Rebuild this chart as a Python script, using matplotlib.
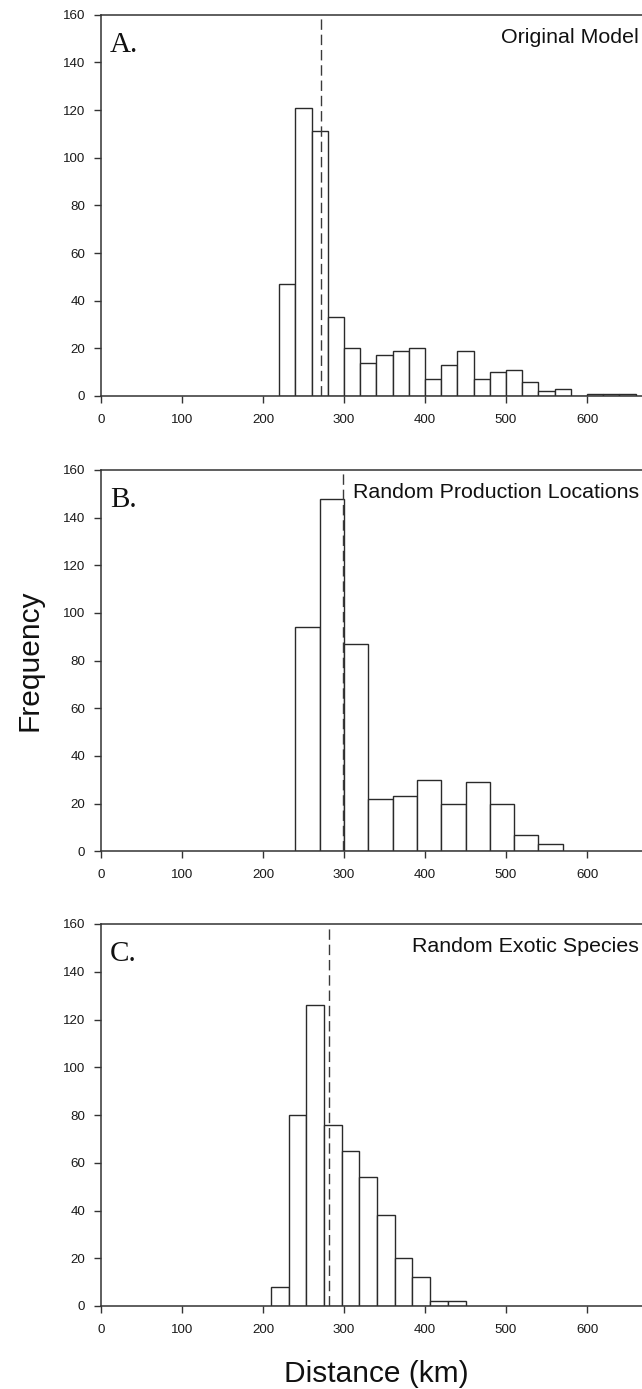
import numpy as np
import matplotlib
matplotlib.use("Agg")
import matplotlib.pyplot as plt

plt.rcParams['font.family'] = ['Liberation Sans', 'DejaVu Sans']

# panel A: 20 km bins from 220 km
edges_a = np.arange(220, 661, 20)
counts_a = [47, 121, 111, 33, 20, 14, 17, 19, 20, 7, 13, 19, 7, 10, 11, 6, 2, 3, 0, 1, 1, 1]
mean_a = 272

# panel B: 30 km bins from 240 km
edges_b = np.arange(240, 571, 30)
counts_b = [94, 148, 87, 22, 23, 30, 20, 29, 20, 7, 3]
mean_b = 299

# panel C: 11 bins between 210 and 450 km
edges_c = np.linspace(210, 450, 12)
counts_c = [8, 80, 126, 76, 65, 54, 38, 20, 12, 2, 2]
mean_c = 281

letters = ['A.', 'B.', 'C.']
titles = ['Original Model', 'Random Production Locations', 'Random Exotic Species']
xticks = [0, 100, 200, 300, 400, 500, 600]
yticks = [0, 20, 40, 60, 80, 100, 120, 140, 160]

W, H = 642, 1389
fig = plt.figure(figsize=(W / 100, H / 100), dpi=100)

panels = [(edges_a, counts_a, mean_a, 14.7, 396),
          (edges_b, counts_b, mean_b, 470, 851.3),
          (edges_c, counts_c, mean_c, 924, 1306)]

spine_col = '#333333'
for i, (edges, counts, mean, top, bot) in enumerate(panels):
    left = 101
    width = 567  # 0-700 km, runs past the right edge of the picture
    ax = fig.add_axes([left / W, (H - bot) / H, width / W, (bot - top) / H])
    ax.hist(edges[:-1], bins=edges, weights=counts, facecolor='white',
            edgecolor='#2a2a2a', linewidth=1.0)
    ax.axvline(mean, color='#3a3a3a', linewidth=1.0, dashes=(7.5, 3.5))
    ax.set_xlim(0, 700)
    ax.set_ylim(0, 160)
    ax.set_xticks(xticks)
    ax.set_yticks(yticks)
    ax.tick_params(direction='out', length=5, width=1, color=spine_col,
                   labelsize=9.6, labelcolor='#1a1a1a')
    ax.tick_params(axis='x', pad=8)
    ax.tick_params(axis='y', pad=6.5)
    ax.spines['right'].set_visible(False)
    for s in ['left', 'top', 'bottom']:
        ax.spines[s].set_color(spine_col)
        ax.spines[s].set_linewidth(1.1)
    ax.text(9 / width, 1 - 17 / (bot - top), letters[i], transform=ax.transAxes,
            family='Liberation Serif', fontsize=21, va='top', ha='left', color='#111111')
    fig.text(639 / W, 1 - (top + 28.5) / H, titles[i], fontsize=15.4,
             ha='right', va='baseline', color='#111111')

fig.text(29 / W, 1 - 660 / H, 'Frequency', rotation=90, fontsize=21.5,
         ha='center', va='center', color='#111111')
fig.text(376 / W, 1 - 1381.7 / H, 'Distance (km)', fontsize=21.5,
         ha='center', va='baseline', color='#111111')

fig.savefig('out.png', dpi=100, facecolor='white')
